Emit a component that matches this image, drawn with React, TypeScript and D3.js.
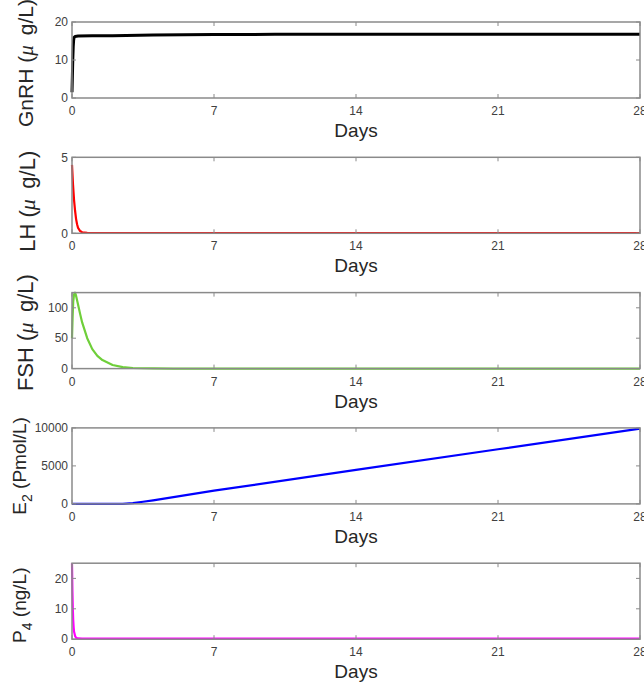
import React, { useEffect, useRef } from 'react';
import * as d3 from 'd3';

// x axis (days)
const dayTicks = [0, 7, 14, 21, 28];

// GnRH (ug/L)
const gnrhDays = [0, 0.02, 0.04, 0.06, 0.08, 0.1, 0.15, 0.3, 1, 2, 4, 7, 10, 14, 21, 28];
const gnrh = [1.5, 6, 10.5, 13.5, 15.2, 15.9, 16.2, 16.3, 16.35, 16.4, 16.6, 16.7, 16.75, 16.8, 16.8, 16.8];

// LH (ug/L)
const lhDays = [0, 0.05, 0.1, 0.15, 0.2, 0.25, 0.3, 0.4, 0.5, 0.75, 1, 3, 28];
const lh = [4.5, 3.2, 2.2, 1.5, 0.95, 0.6, 0.35, 0.15, 0.07, 0.03, 0.02, 0.02, 0.02];

// FSH (ug/L)
const fshDays = [0, 0.03, 0.06, 0.1, 0.15, 0.2, 0.3, 0.4, 0.5, 0.75, 1, 1.25, 1.5, 2, 2.5, 3, 4, 5, 28];
const fsh = [50, 85, 110, 122, 125, 120, 105, 90, 76, 50, 32, 21, 14, 6, 2.5, 1, 0.3, 0.1, 0];

// E2 (pmol/L)
const e2Days = [0, 1, 2, 2.5, 3, 3.5, 4, 7, 14, 21, 28];
const e2 = [0, 0, 0, 15, 110, 280, 470, 1740, 4470, 7190, 9900];

// P4 (ng/L)
const p4Days = [0, 0.02, 0.04, 0.06, 0.08, 0.1, 0.15, 0.2, 0.3, 0.5, 28];
const p4 = [25, 16, 10, 6.3, 4, 2.5, 1.1, 0.5, 0.25, 0.2, 0.2];

const panels = [
  { days: gnrhDays, vals: gnrh, max: 20, ticks: [0, 10, 20], color: '#000000', lw: 3, label: 'gnrh', lx: 33, dyc: 3, fs: 21 },
  { days: lhDays, vals: lh, max: 5, ticks: [0, 5], color: '#ff0000', lw: 2.2, label: 'lh', lx: 35, dyc: 6, fs: 22 },
  { days: fshDays, vals: fsh, max: 125, ticks: [0, 50, 100], color: '#6fcf3a', lw: 2.2, label: 'fsh', lx: 33, dyc: 2, fs: 22 },
  { days: e2Days, vals: e2, max: 10000, ticks: [0, 5000, 10000], color: '#0000ff', lw: 2.2, label: 'e2', lx: 26, dyc: 0, fs: 19 },
  { days: p4Days, vals: p4, max: 25, ticks: [0, 10, 20], color: '#ff00ff', lw: 2.2, label: 'p4', lx: 26, dyc: 4, fs: 19 },
];

const font = '"Liberation Sans", Arial, Helvetica, sans-serif';

const Chart = () => {
  const svgRef = useRef<SVGSVGElement>(null);

  useEffect(() => {
    const svg = d3.select(svgRef.current);
    svg.selectAll('*').remove();

    const left = 72;
    const right = 640;
    const h = 76;
    const x = d3.scaleLinear().domain([0, 28]).range([left, right]);

    panels.forEach((p, i) => {
      const top = 22 + i * 135.3;
      const bottom = top + h;
      const y = d3.scaleLinear().domain([0, p.max]).range([bottom, top]);
      const g = svg.append('g');

      // curve
      const line = d3
        .line<number>()
        .x((_, j) => x(p.days[j]))
        .y((d) => y(d));
      g.append('path')
        .datum(p.vals)
        .attr('d', line)
        .attr('fill', 'none')
        .attr('stroke', p.color)
        .attr('stroke-width', p.lw)
        .attr('stroke-linejoin', 'round');

      // box
      g.append('rect')
        .attr('x', left)
        .attr('y', top)
        .attr('width', right - left)
        .attr('height', h)
        .attr('fill', 'none')
        .attr('stroke', '#8a8a8a')
        .attr('stroke-width', 1.5);

      // x ticks (inward, mirrored)
      dayTicks.forEach((t) => {
        g.append('line')
          .attr('x1', x(t)).attr('x2', x(t))
          .attr('y1', bottom).attr('y2', bottom - 4)
          .attr('stroke', '#8a8a8a').attr('stroke-width', 1);
        g.append('line')
          .attr('x1', x(t)).attr('x2', x(t))
          .attr('y1', top).attr('y2', top + 4)
          .attr('stroke', '#8a8a8a').attr('stroke-width', 1);
        g.append('text')
          .attr('x', x(t))
          .attr('y', bottom + 17)
          .attr('text-anchor', 'middle')
          .attr('font-size', 12)
          .attr('font-family', font)
          .attr('fill', '#404040')
          .text(t);
      });

      // y ticks
      p.ticks.forEach((t) => {
        g.append('line')
          .attr('x1', left).attr('x2', left + 4)
          .attr('y1', y(t)).attr('y2', y(t))
          .attr('stroke', '#8a8a8a').attr('stroke-width', 1);
        g.append('line')
          .attr('x1', right).attr('x2', right - 4)
          .attr('y1', y(t)).attr('y2', y(t))
          .attr('stroke', '#8a8a8a').attr('stroke-width', 1);
        g.append('text')
          .attr('x', left - 4)
          .attr('y', y(t))
          .attr('dy', '0.35em')
          .attr('text-anchor', 'end')
          .attr('font-size', 12)
          .attr('font-family', font)
          .attr('fill', '#404040')
          .text(t);
      });

      // x label
      g.append('text')
        .attr('x', (left + right) / 2)
        .attr('y', bottom + 39)
        .attr('text-anchor', 'middle')
        .attr('font-size', 19)
        .attr('font-family', font)
        .attr('fill', '#262626')
        .text('Days');

      // y label
      const yl = g
        .append('text')
        .attr('transform', `translate(${p.lx},${top + h / 2 + p.dyc}) rotate(-90)`)
        .attr('text-anchor', 'middle')
        .attr('font-size', p.fs)
        .attr('font-family', font)
        .attr('fill', '#262626');
      const mu = (sel) => {
        sel.append('tspan').text('(');
        sel.append('tspan')
          .attr('font-family', '"Liberation Serif", "DejaVu Serif", serif')
          .attr('font-style', 'italic')
          .text('\u03bc');
        sel.append('tspan').text('\u2009 g/L)');
      };
      if (p.label === 'gnrh') {
        yl.append('tspan').text('GnRH ');
        mu(yl);
      } else if (p.label === 'lh') {
        yl.append('tspan').text('LH ');
        mu(yl);
      } else if (p.label === 'fsh') {
        yl.append('tspan').text('FSH ');
        mu(yl);
      } else if (p.label === 'e2') {
        yl.append('tspan').text('E');
        yl.append('tspan').attr('dy', 6).attr('font-size', 14).text('2');
        yl.append('tspan').attr('dy', -6).text(' (Pmol/L)');
      } else {
        yl.append('tspan').text('P');
        yl.append('tspan').attr('dy', 6).attr('font-size', 14).text('4');
        yl.append('tspan').attr('dy', -6).text(' (ng/L)');
      }
    });
  }, []);

  return (
    <svg
      ref={svgRef}
      width={644}
      height={688}
      style={{ position: 'absolute', left: 0, top: 0, background: '#fff' }}
    />
  );
};

export default function App() {
  return <Chart />;
}
